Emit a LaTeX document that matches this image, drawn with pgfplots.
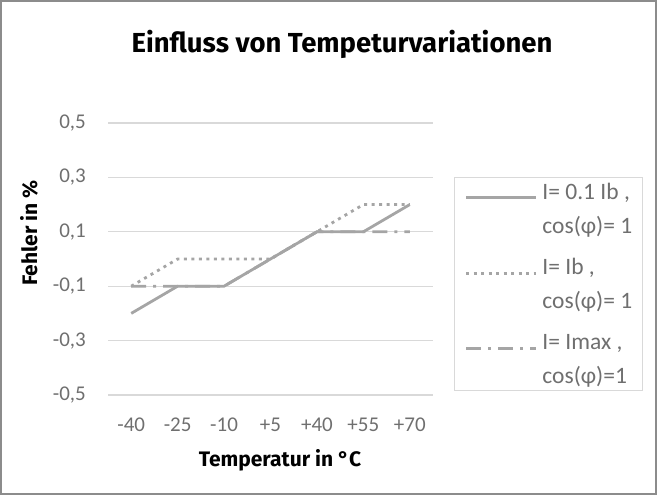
\documentclass[border=0pt]{standalone}
\usepackage{fontspec}
\setmainfont{Carlito}
\newfontfamily\titlefont{Fira Sans}
\usepackage{pgfplots}
\pgfplotsset{compat=1.18}
\definecolor{linec}{HTML}{A5A5A5}
\definecolor{gridc}{HTML}{D9D9D9}
\definecolor{tickc}{HTML}{6F6F6F}
\definecolor{framec}{HTML}{8C8C8C}
\begin{document}
\begin{tikzpicture}[x=1bp,y=1bp]
\path[use as bounding box] (0,0) rectangle (657,495);
\draw[framec, line width=1.2bp] (1,1) rectangle (656,494);
\begin{axis}[
  at={(108bp,100bp)}, anchor=south west,
  scale only axis, width=325bp, height=272bp,
  xmin=-0.5, xmax=6.5, ymin=-0.5, ymax=0.5,
  axis x line=bottom, axis y line=left,
  axis line style={draw=none},
  major tick length=0pt,
  xtick={0,1,2,3,4,5,6},
  xticklabels={-40,-25,-10,+5,+40,+55,+70},
  ytick={-0.5,-0.3,-0.1,0.1,0.3,0.5},
  yticklabels={{-0,5},{-0,3},{-0,1},{0,1},{0,3},{0,5}},
  ymajorgrids, grid style={gridc, line width=1.2bp},
  tick label style={font=\fontsize{21bp}{25bp}\selectfont, text=tickc, inner sep=0pt},
  xticklabel style={anchor=center, yshift=-30bp},
  yticklabel style={anchor=east, xshift=-22bp},
  clip=false,
  legend cell align=left,
  legend image code/.code={\draw[#1, line width=2.8bp] (0bp,11bp) -- (70bp,11bp);},
  legend style={at={(1.066,0.018)}, anchor=south west,
    draw=gridc,
    font=\fontsize{23.5bp}{34bp}\selectfont, text=tickc,
    inner xsep=10bp, inner ysep=5bp, row sep=24bp, column sep=5bp,
    nodes={inner sep=0pt}, cells={align=left}},
]
\addplot[linec, line width=2.8bp] coordinates {(0,-0.2)(1,-0.1)(2,-0.1)(3,0)(4,0.1)(5,0.1)(6,0.2)};
\addlegendentry{I= 0.1 Ib ,\\cos(φ)= 1}
\addplot[linec, line width=2.8bp, dash pattern=on 3bp off 4.5bp] coordinates {(0,-0.1)(1,0)(2,0)(3,0)(4,0.1)(5,0.2)(6,0.2)};
\addlegendentry{I= Ib ,\\cos(φ)= 1}
\addplot[linec, line width=2.8bp, dash pattern=on 15bp off 7bp on 3bp off 7bp] coordinates {(0,-0.1)(1,-0.1)(2,-0.1)(3,0)(4,0.1)(5,0.1)(6,0.1)};
\addlegendentry{I= Imax ,\\cos(φ)=1}
\end{axis}
\node[anchor=base, font=\titlefont\bfseries\fontsize{27.5bp}{32bp}\selectfont] at (342,442) {Einfluss von Tempeturvariationen};
\node[anchor=base, font=\titlefont\bfseries\fontsize{21bp}{25bp}\selectfont] at (280,28) {Temperatur in °C};
\node[anchor=base, rotate=90, font=\titlefont\bfseries\fontsize{21bp}{25bp}\selectfont] at (37,262) {Fehler in \%};
\end{tikzpicture}
\end{document}
